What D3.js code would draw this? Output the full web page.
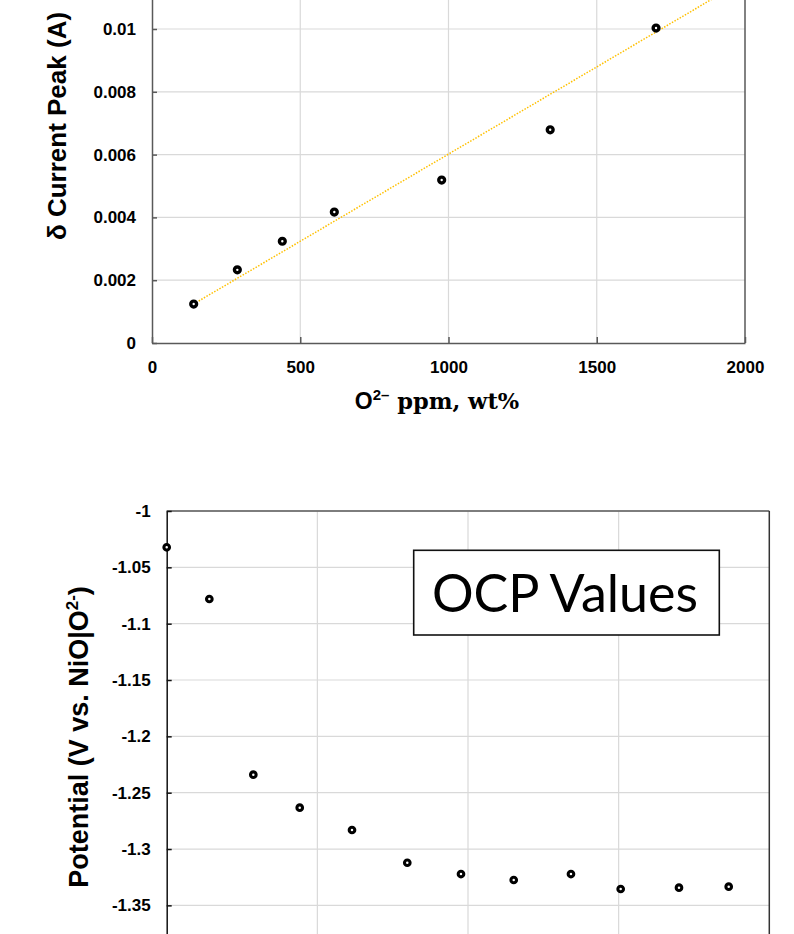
<!DOCTYPE html>
<html><head><meta charset="utf-8">
<script src="https://cdn.jsdelivr.net/npm/d3@7"></script>
<style>body{margin:0;background:#fff}svg{display:block}</style>
</head><body>
<svg id="c" width="794" height="934"></svg>
<script>
// ---- Top chart data ----
const peakPpm = [140.6, 287.8, 439.5, 614.9, 977, 1343, 1700];
const peakCurrent = [0.00124, 0.00233, 0.00324, 0.00417, 0.00519, 0.00679, 0.01003];
const trendPpm = [140, 2000];
const trendCurrent = [0.00124, 0.01157];
const topXTicks = [0, 500, 1000, 1500, 2000];
const topYTicks = [0, 0.002, 0.004, 0.006, 0.008, 0.01];

// ---- Bottom chart data ----
const ocpTime = [0, 5.66, 11.5, 17.66, 24.6, 31.94, 39.07, 46.07, 53.67, 60.27, 68.01, 74.61];
const ocpPotential = [-1.0322, -1.0781, -1.234, -1.2633, -1.2831, -1.3122, -1.3222, -1.3275, -1.3222, -1.3355, -1.3343, -1.3334];
const botXTicks = [0, 20, 40, 60, 80];
const botYTicks = [-1.35, -1.3, -1.25, -1.2, -1.15, -1.1, -1.05, -1];

const svg = d3.select("#c");
const GRID = "#d9d9d9", AX = "#595959";
const tickFont = "'Liberation Sans', Arial, sans-serif";

function drawChart(o) {
  const g = svg.append("g");
  const x = d3.scaleLinear().domain(o.xDomain).range([o.left, o.right]);
  const y = d3.scaleLinear().domain(o.yDomain).range([o.bottom, o.top]);
  g.selectAll(".gx").data(o.xTicks.slice(1, -1)).join("line")
    .attr("x1", d => x(d)).attr("x2", d => x(d)).attr("y1", o.top).attr("y2", o.bottom)
    .attr("stroke", GRID).attr("stroke-width", 1.2);
  g.selectAll(".gy").data(o.yTicks.filter(d => d !== o.yDomain[0])).join("line")
    .attr("x1", o.left).attr("x2", o.right).attr("y1", d => y(d)).attr("y2", d => y(d))
    .attr("stroke", GRID).attr("stroke-width", 1.2);
  g.append("line").attr("x1", o.left).attr("x2", o.right).attr("y1", o.top).attr("y2", o.top)
    .attr("stroke", AX).attr("stroke-width", 1.5);
  g.append("line").attr("x1", o.right).attr("x2", o.right).attr("y1", o.top).attr("y2", o.bottom)
    .attr("stroke", o.rightColor).attr("stroke-width", 1.5);
  const ya = g.append("g").attr("transform", `translate(${o.left},0)`)
    .call(d3.axisLeft(y).tickValues(o.yTicks).tickSizeInner(-5).tickSizeOuter(0).tickPadding(16).tickFormat(o.yFmt));
  ya.select(".domain").attr("stroke", o.leftColor).attr("stroke-width", 1.5);
  ya.selectAll(".tick line").attr("stroke", o.leftColor).attr("stroke-width", 1.5);
  ya.selectAll("text").attr("font-family", tickFont).attr("font-weight", "bold").attr("font-size", 17).attr("fill", "#000");
  const xa = g.append("g").attr("transform", `translate(0,${o.bottom})`)
    .call(d3.axisBottom(x).tickValues(o.xTicks).tickSizeInner(-6).tickSizeOuter(0).tickPadding(18).tickFormat(o.xFmt));
  xa.select(".domain").attr("stroke", AX).attr("stroke-width", 1.5);
  xa.selectAll(".tick line").attr("stroke", AX).attr("stroke-width", 1.5);
  xa.selectAll("text").attr("font-family", tickFont).attr("font-weight", "bold").attr("font-size", 17).attr("fill", "#000");
  return {g, x, y};
}

// ---- Top chart ----
const topChart = drawChart({
  left: 152, right: 745, top: -33.8, bottom: 343,
  xDomain: [0, 2000], yDomain: [0, 0.012],
  xTicks: topXTicks, yTicks: topYTicks,
  yFmt: d => String(+d.toFixed(4)), xFmt: d3.format("d"),
  rightColor: AX, leftColor: AX
});
topChart.g.append("path")
  .datum(trendPpm.map((v, i) => [v, trendCurrent[i]]))
  .attr("d", d3.line().x(d => topChart.x(d[0])).y(d => topChart.y(d[1])))
  .attr("fill", "none").attr("stroke", "#ffc000").attr("stroke-width", 1.5).attr("stroke-dasharray", "1.5,1.5");
topChart.g.selectAll(".pt").data(peakPpm).join("circle")
  .attr("cx", d => topChart.x(d)).attr("cy", (d, i) => topChart.y(peakCurrent[i])).attr("r", 2.9)
  .attr("fill", "#fff").attr("stroke", "#000").attr("stroke-width", 3.4);
svg.append("text").attr("transform", "translate(66,126) rotate(-90)")
  .attr("text-anchor", "middle").attr("font-family", tickFont).attr("font-weight", "bold").attr("font-size", 26)
  .text("δ Current Peak (A)");
const xt = svg.append("text").attr("x", 437).attr("y", 409).attr("text-anchor", "middle");
xt.append("tspan").attr("font-family", tickFont).attr("font-weight", "bold").attr("font-size", 23).text("O");
xt.append("tspan").attr("font-family", tickFont).attr("font-weight", "bold").attr("font-size", 15).attr("dy", -9).text("2–");
xt.append("tspan").attr("font-family", "'DejaVu Serif', serif").attr("font-weight", "bold").attr("font-size", 22.5).attr("dy", 9).text(" ppm, wt%");

// ---- Bottom chart ----
const botChart = drawChart({
  left: 166.7, right: 769.3, top: 511, bottom: 961.7,
  xDomain: [0, 80], yDomain: [-1.4, -1],
  xTicks: botXTicks, yTicks: botYTicks,
  yFmt: d => String(+d.toFixed(2)), xFmt: () => "",
  rightColor: "#333", leftColor: "#111"
});
botChart.g.selectAll(".pt").data(ocpTime).join("circle")
  .attr("cx", d => botChart.x(d)).attr("cy", (d, i) => botChart.y(ocpPotential[i])).attr("r", 2.8)
  .attr("fill", "#fff").attr("stroke", "#000").attr("stroke-width", 3.1);
svg.append("rect").attr("x", 413.7).attr("y", 550.3).attr("width", 305.6).attr("height", 84.7)
  .attr("fill", "#fff").attr("stroke", "#111").attr("stroke-width", 1.6);
svg.append("text").attr("x", 565).attr("y", 611.5).attr("text-anchor", "middle")
  .attr("font-family", "Lato, 'Open Sans', sans-serif").attr("font-size", 52).attr("fill", "#000").text("OCP Values");
const bt = svg.append("text").attr("transform", "translate(88,737) rotate(-90)")
  .attr("text-anchor", "middle").attr("font-family", tickFont).attr("font-weight", "bold").attr("font-size", 27);
bt.append("tspan").text("Potential (V vs. NiO|O");
bt.append("tspan").attr("font-size", 17).attr("dy", -10).text("2-");
bt.append("tspan").attr("dy", 10).text(")");
</script>
</body></html>
